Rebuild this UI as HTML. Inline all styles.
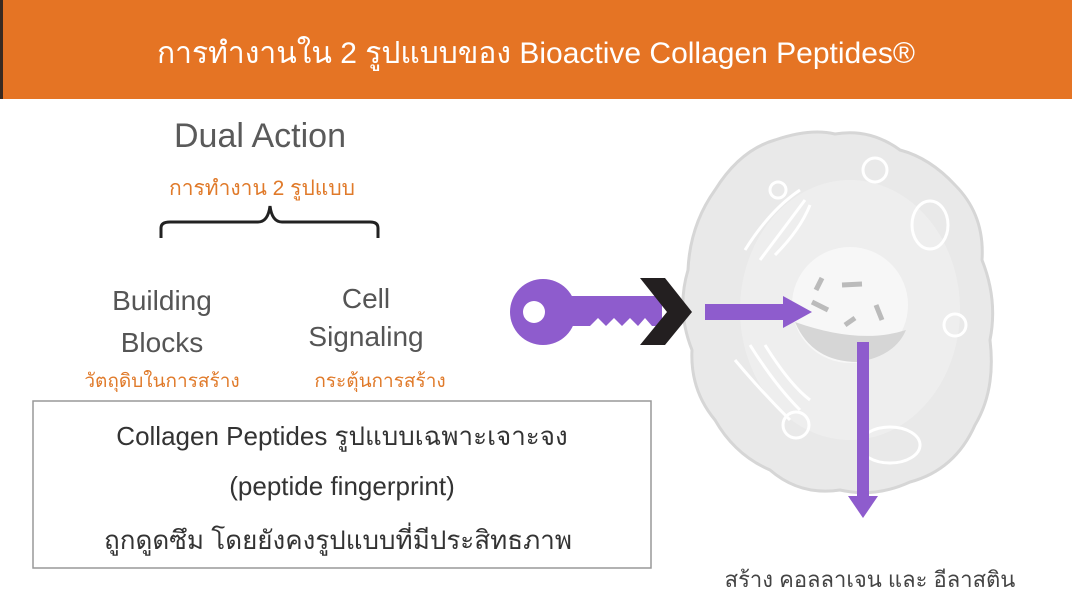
<!DOCTYPE html>
<html><head><meta charset="utf-8"><style>
body{margin:0;width:1072px;height:596px;overflow:hidden;background:#fff;font-family:"Liberation Sans","Noto Sans CJK SC",sans-serif;position:relative}
.hdr{position:absolute;left:0;top:0;width:1072px;height:99px;background:#e57424;border-left:3px solid #3a2a20;box-sizing:border-box}
.t{position:absolute;white-space:nowrap;transform:translateX(-50%)}
</style></head><body>
<div class="hdr"></div>
<div class="t" style="left:536px;top:30px;font-size:30px;color:#fff">การทำงานใน 2 รูปแบบของ Bioactive Collagen Peptides®</div>
<div class="t" style="left:260px;top:117px;font-size:34px;color:#5a5a5a">Dual Action</div>
<div class="t" style="left:262px;top:172px;font-size:21px;color:#e07a2a">การทำงาน 2 รูปแบบ</div>
<svg style="position:absolute;left:0;top:0" width="1072" height="596">
<path d="M161,238 V228 Q161,222 170,222 H258 Q268,222 270,206 Q272,222 282,222 H370 Q378,222 378,228 V238" fill="none" stroke="#222" stroke-width="3"/>
<rect x="33" y="401" width="618" height="167" fill="none" stroke="#999" stroke-width="1.5"/>
<path d="M775,140 Q810,128 835,134 Q870,128 900,150 Q930,158 955,185 Q985,215 982,260 Q998,300 990,340 Q996,390 975,425 Q955,470 910,482 Q875,498 840,490 Q800,496 770,470 Q735,455 715,420 Q690,390 692,350 Q676,310 688,270 Q690,225 715,190 Q740,150 775,140Z" fill="#e9e9e9" stroke="#d6d6d6" stroke-width="3"/>
<ellipse cx="850" cy="310" rx="110" ry="130" fill="#f1f1f1" opacity="0.6"/>
<g fill="none" stroke="#fff" stroke-width="3">
<circle cx="875" cy="170" r="12"/><ellipse cx="930" cy="225" rx="18" ry="24"/><circle cx="955" cy="325" r="11"/>
<circle cx="796" cy="425" r="13"/><ellipse cx="890" cy="445" rx="30" ry="18"/><circle cx="778" cy="190" r="8"/>
<path d="M745,250 Q770,210 800,190 M760,260 Q790,220 805,200 M775,255 Q800,230 810,205"/>
<path d="M735,360 Q760,390 790,420 M750,345 Q775,385 800,410 M765,345 Q790,385 810,400"/>
</g>
<circle cx="850" cy="305" r="58" fill="#f7f7f7"/>
<path d="M795,322 Q812,362 858,362 Q895,356 906,330 Q860,345 795,322Z" fill="#d6d6d6"/>
<g stroke="#bbb" stroke-width="5">
<line x1="812" y1="302" x2="828" y2="310"/><line x1="842" y1="285" x2="862" y2="284"/><line x1="876" y1="305" x2="882" y2="320"/><line x1="845" y1="325" x2="855" y2="318"/><line x1="816" y1="290" x2="822" y2="278"/>
</g>
<circle cx="543" cy="312" r="33" fill="#8e5ccd"/>
<circle cx="534" cy="312" r="11" fill="#fff"/>
<path d="M565,296 H662 V326 H652 L645,318 L638,326 L630,318 L622,326 L614,318 L606,326 L598,318 L590,326 L565,326Z" fill="#8e5ccd"/>
<path d="M640,278 H665 L692,312 L665,345 H640 L667,312Z" fill="#231f20"/>
<rect x="705" y="304" width="80" height="16" fill="#8e5ccd"/>
<path d="M783,296 L812,312 L783,328Z" fill="#8e5ccd"/>
<rect x="857" y="342" width="12" height="155" fill="#8e5ccd"/>
<path d="M848,496 L863,518 L878,496Z" fill="#8e5ccd"/>
</svg>
<div class="t" style="left:162px;top:280px;font-size:28px;color:#555;text-align:center;line-height:42px">Building<br>Blocks</div>
<div class="t" style="left:366px;top:280px;font-size:28px;color:#555;text-align:center;line-height:38px">Cell<br>Signaling</div>
<div class="t" style="left:162px;top:366px;font-size:19px;color:#e07a2a">วัตถุดิบในการสร้าง</div>
<div class="t" style="left:380px;top:366px;font-size:19px;color:#e07a2a">กระตุ้นการสร้าง</div>
<div class="t" style="left:342px;top:416px;font-size:26px;color:#333">Collagen Peptides รูปแบบเฉพาะเจาะจง</div>
<div class="t" style="left:342px;top:471px;font-size:26px;color:#333">(peptide fingerprint)</div>
<div class="t" style="left:338px;top:520px;font-size:26px;color:#333">ถูกดูดซึม โดยยังคงรูปแบบที่มีประสิทธภาพ</div>
<div class="t" style="left:870px;top:562px;font-size:22px;color:#444">สร้าง คอลลาเจน และ อีลาสติน</div>
</body></html>
